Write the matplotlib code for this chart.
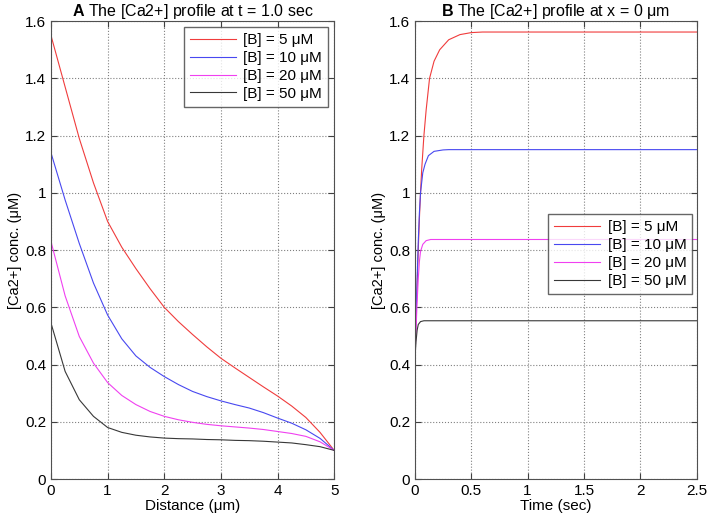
import matplotlib
matplotlib.use('Agg')
import matplotlib.pyplot as plt

plt.rcParams['font.family'] = ['Liberation Sans', 'DejaVu Sans']
plt.rcParams['mathtext.fontset'] = 'custom'
plt.rcParams['mathtext.bf'] = 'Liberation Sans:bold'
plt.rcParams['mathtext.rm'] = 'Liberation Sans'

labels = ['[B] = 5 μM', '[B] = 10 μM', '[B] = 20 μM', '[B] = 50 μM']
colors = ['#f03c3c', '#4848f0', '#f040f0', '#383838']

# panel A: profile along distance at t = 1.0 sec
dist = [0, 0.25, 0.5, 0.75, 1, 1.25, 1.5, 1.75, 2, 2.25, 2.5, 2.75, 3, 3.25, 3.5, 3.75,
        4, 4.25, 4.5, 4.75, 5]
ca_5 = [1.55, 1.37, 1.19, 1.035, 0.90, 0.81, 0.735, 0.665, 0.600, 0.55, 0.505, 0.462, 0.422,
        0.388, 0.355, 0.322, 0.29, 0.255, 0.215, 0.163, 0.10]
ca_10 = [1.14, 0.975, 0.823, 0.685, 0.573, 0.49, 0.43, 0.39, 0.358, 0.33, 0.306, 0.288, 0.273,
         0.26, 0.248, 0.232, 0.213, 0.195, 0.172, 0.142, 0.10]
ca_20 = [0.83, 0.64, 0.498, 0.405, 0.337, 0.292, 0.26, 0.236, 0.219, 0.207, 0.198, 0.191, 0.186,
         0.182, 0.178, 0.173, 0.166, 0.159, 0.149, 0.13, 0.10]
ca_50 = [0.545, 0.376, 0.277, 0.219, 0.18, 0.163, 0.153, 0.147, 0.143, 0.141, 0.140, 0.138, 0.137,
         0.135, 0.134, 0.132, 0.129, 0.126, 0.12, 0.113, 0.10]

# panel B: time course at x = 0
t_5 = [0, 0.01, 0.02, 0.03, 0.04, 0.05, 0.06, 0.08, 0.1, 0.13, 0.17, 0.22, 0.3, 0.4, 0.5, 0.6, 2.5]
b_5 = [0.42, 0.55, 0.68, 0.80, 0.91, 1.0, 1.08, 1.2, 1.29, 1.4, 1.46, 1.5, 1.535, 1.553, 1.56, 1.562, 1.562]
t_10 = [0, 0.01, 0.02, 0.03, 0.04, 0.05, 0.07, 0.09, 0.12, 0.17, 0.25, 0.3, 2.5]
b_10 = [0.42, 0.56, 0.70, 0.83, 0.93, 1.0, 1.07, 1.10, 1.13, 1.145, 1.15, 1.151, 1.151]
t_20 = [0, 0.01, 0.02, 0.03, 0.04, 0.05, 0.07, 0.1, 0.14, 2.5]
b_20 = [0.42, 0.52, 0.62, 0.70, 0.76, 0.795, 0.82, 0.833, 0.837, 0.837]
t_50 = [0, 0.01, 0.02, 0.03, 0.05, 0.08, 2.5]
b_50 = [0.42, 0.48, 0.52, 0.54, 0.55, 0.553, 0.553]

fig = plt.figure(figsize=(7.08, 5.16), dpi=100)
axA = fig.add_axes([0.072, 0.0717, 0.400, 0.8873])
axB = fig.add_axes([0.586, 0.0717, 0.398, 0.8873])


def style(ax):
    ax.grid(True, linestyle=':', color='#808080', linewidth=0.8)
    ax.tick_params(direction='in', top=True, right=True, labelsize=11, length=4, color='#404040')
    for s in ax.spines.values():
        s.set_color('#505050')
    ax.set_ylim(0, 1.6)
    ax.set_yticks([0, 0.2, 0.4, 0.6, 0.8, 1, 1.2, 1.4, 1.6])
    ax.set_yticklabels(['0', '0.2', '0.4', '0.6', '0.8', '1', '1.2', '1.4', '1.6'])
    ax.set_ylabel('[Ca2+] conc. (μM)', fontsize=10.5, labelpad=2)


leg_kw = dict(fontsize=11, frameon=True, fancybox=False, edgecolor='#404040',
              handlelength=3.0, handletextpad=0.5, labelspacing=0.25, borderpad=0.4)

for y, c, l in zip([ca_5, ca_10, ca_20, ca_50], colors, labels):
    axA.plot(dist, y, color=c, linewidth=0.8, label=l)
style(axA)
axA.set_xlim(0, 5)
axA.set_xlabel('Distance (μm)', fontsize=11, labelpad=1)
axA.set_title(r'$\mathbf{A}$ The [Ca2+] profile at t = 1.0 sec', fontsize=11.5, pad=4)
axA.legend(loc='upper right', borderaxespad=0.4, **leg_kw)

for tt, y, c, l in zip([t_5, t_10, t_20, t_50], [b_5, b_10, b_20, b_50], colors, labels):
    axB.plot(tt, y, color=c, linewidth=0.8, label=l)
style(axB)
axB.set_xlim(0, 2.5)
axB.set_xticks([0, 0.5, 1, 1.5, 2, 2.5])
axB.set_xticklabels(['0', '0.5', '1', '1.5', '2', '2.5'])
axB.set_xlabel('Time (sec)', fontsize=11, labelpad=1)
axB.set_title(r'$\mathbf{B}$ The [Ca2+] profile at x = 0 μm', fontsize=11.5, pad=4)
axB.legend(loc='upper right', bbox_to_anchor=(0.985, 0.578), borderaxespad=0, **leg_kw)

fig.savefig('out.png', dpi=100)
